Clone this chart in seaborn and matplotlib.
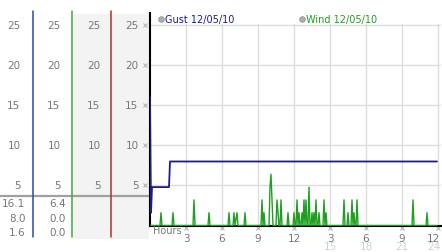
import numpy as np
import pandas as pd
import matplotlib
matplotlib.use("Agg")
import matplotlib.pyplot as plt
import matplotlib.transforms as mtransforms
import seaborn as sns

# ---------------- data ----------------
n_samples = 288                      # 5-minute samples over 24 hours
gust_start = [16.1, 1.6]             # first two samples
gust_early_level = 4.8               # samples 2..19
gust_late_level = 8.0                # samples 20..end
gust_step_idx = 20

wind_spike_idx = [11, 23, 44, 59, 79, 84, 86, 87, 95, 112, 114, 120, 121, 122,
                  127, 128, 131, 138, 144, 147, 149, 152, 154, 156, 159, 162,
                  164, 166, 169, 174, 176, 194, 198, 202, 204, 207, 263, 277]
wind_spike_val = [1.6, 1.6, 3.2, 1.6, 1.6, 1.6, 0.8, 1.6, 1.6, 3.2, 1.6, 4.8, 6.4, 3.2,
                  3.2, 1.6, 3.2, 1.6, 1.6, 3.2, 1.6, 1.6, 3.2, 3.2, 4.8, 1.6,
                  1.6, 3.2, 1.6, 3.2, 1.6, 3.2, 1.6, 3.2, 1.6, 3.2, 3.2, 1.6]

y_ticks = [5, 10, 15, 20, 25]
x_ticks = [3, 6, 9, 12, 15, 18, 21, 24]
x_labels_row1 = ["3", "6", "9", "12", "3", "6", "9", "12"]
x_labels_row2 = ["", "", "", "", "15", "18", "21", "24"]
series_names = ["Gust 12/05/10", "Wind 12/05/10"]

# ---------------- build series ----------------
hours = np.arange(n_samples) / 12.0
gust = np.full(n_samples, gust_late_level)
gust[:gust_step_idx] = gust_early_level
gust[:len(gust_start)] = gust_start
wind = np.zeros(n_samples)
wind[wind_spike_idx] = wind_spike_val

df = pd.DataFrame({"hours": np.concatenate([hours, hours]),
                   "speed": np.concatenate([gust, wind]),
                   "series": ["Gust"] * n_samples + ["Wind"] * n_samples})

GUST_C = "#1c1c8a"
WIND_C = "#1f9f1f"

sns.set_style("white")
plt.rcParams["font.family"] = ["DejaVu Sans"]

W, H = 442, 253
fig = plt.figure(figsize=(W / 100, H / 100), dpi=100)

# overlay for the left side panel (pixel layout)
ov = fig.add_axes([0, 0, 1, 1], zorder=0)
ov.set_xlim(0, W)
ov.set_ylim(H, 0)
ov.axis("off")
ov.patch.set_alpha(0)

ax = fig.add_axes([150 / W, 26.5 / H, 291 / W, 213 / H], zorder=2)
ax.set_xlim(0, 24.25)
ax.set_ylim(0, 26.62)

# grid
for yv in y_ticks:
    ax.axhline(yv, color="#dcdcdc", lw=1, zorder=0)
for xv in x_ticks:
    ax.plot([xv, xv], [0, 25.2], color="#dcdcdc", lw=1, zorder=0)

sns.lineplot(data=df, x="hours", y="speed", hue="series",
             palette={"Gust": GUST_C, "Wind": WIND_C}, estimator=None,
             legend=False, ax=ax, linewidth=1.0, zorder=3)
for line, lw in zip(ax.get_lines()[-2:], [1.3, 1.0]):
    line.set_linewidth(lw)

for s in ["top", "right"]:
    ax.spines[s].set_visible(False)
ax.spines["left"].set_color("black")
ax.spines["left"].set_linewidth(1.5)
ax.spines["bottom"].set_color("black")
ax.spines["bottom"].set_linewidth(1.5)
ax.set_xticks([])
ax.set_yticks([])
ax.set_xlabel("")
ax.set_ylabel("")

# small hatch marks at ticks
ax.plot([-0.017] * len(y_ticks), y_ticks, ls="none", marker="x", ms=2.5,
        mew=0.7, color="#aaaaaa", clip_on=False,
        transform=mtransforms.blended_transform_factory(ax.transAxes, ax.transData))
ax.plot(x_ticks, [-0.014] * len(x_ticks), ls="none", marker="x", ms=2.5,
        mew=0.7, color="#aaaaaa", clip_on=False,
        transform=mtransforms.blended_transform_factory(ax.transData, ax.transAxes))

FS = 7
bx = mtransforms.blended_transform_factory(ax.transData, ax.transAxes)
last = len(x_ticks) - 1
for i, (xv, l1, l2) in enumerate(zip(x_ticks, x_labels_row1, x_labels_row2)):
    ha = "right" if i == last else "center"
    xp = 24.2 if i == last else xv
    ax.text(xp, -0.058, l1, transform=bx, ha=ha, va="center",
            fontsize=FS + 0.5, color="#777777")
    if l2:
        ax.text(xp, -0.098, l2, transform=bx, ha=ha, va="center",
                fontsize=FS + 0.5, color="#d0d0d0")
ax.text(0.25, -0.022, "Hours", transform=bx, ha="left", va="center",
        fontsize=FS, color="#777777")

# legend
for xm, name, c in zip([0.037, 0.521], series_names, [GUST_C, WIND_C]):
    ax.plot([xm], [0.969], marker="o", ms=4, color="#b0b0b0", mec="#909090",
            mew=0.6, transform=ax.transAxes, clip_on=False)
    ax.text(xm + 0.014, 0.969, name, transform=ax.transAxes, ha="left",
            va="center", fontsize=FS, color=c)

# ---------------- left panel ----------------
ov.add_patch(plt.Rectangle((73, 15), 76, 225, color="#f3f3f3", lw=0, zorder=0))
for xv, c in zip([33.3, 72.3, 111], ["#2a4aa8", "#3aaa3a", "#b03030"]):
    ov.plot([xv, xv], [12, 238], color=c, lw=1.1, zorder=2)
ov.plot([0, 149], [196.7, 196.7], color="#a0a0a0", lw=1.6, zorder=1)

ly = mtransforms.blended_transform_factory(ov.transData, ax.transData)
for xr in [20.5, 60.5, 100.5, 138.5]:
    for yv in y_ticks:
        ov.text(xr, yv, str(yv), transform=ly, ha="right", va="center",
                fontsize=FS + 0.5, color="#777777")

stat_rows_y = [204, 219, 233]
for xr, arr in zip([25.5, 65.5], [gust, wind]):
    vals = [arr.max(), arr[-1], arr.min()]
    for yv, v in zip(stat_rows_y, vals):
        ov.text(xr, yv, f"{v:.1f}", ha="right", va="center",
                fontsize=FS + 0.5, color="#777777")

fig.savefig("out.png", dpi=100)
